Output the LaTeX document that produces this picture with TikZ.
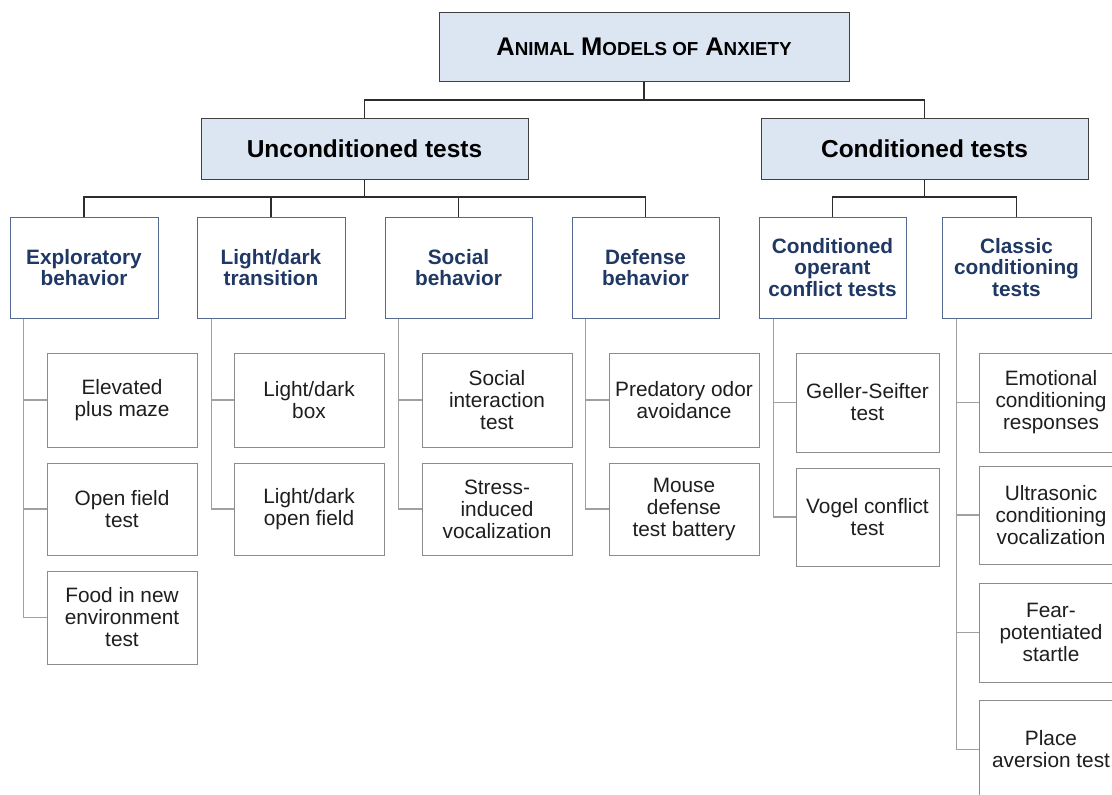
\documentclass[tikz,border=0pt]{standalone}
\usepackage{fontspec}
\setmainfont{Liberation Sans}
\definecolor{lonefill}{RGB}{220,230,242}
\definecolor{lonedraw}{RGB}{64,64,64}
\definecolor{lthreedraw}{RGB}{84,104,145}
\definecolor{lthreetext}{RGB}{31,56,100}
\definecolor{lfourdraw}{RGB}{140,140,140}
\definecolor{lfourtext}{RGB}{30,30,30}
\definecolor{topline}{RGB}{45,45,45}
\definecolor{subline}{RGB}{160,160,160}
\newcommand\mybox[7]{\node[#6, minimum width={#4-#2}, minimum height={#5-#3}] (#1) at ({(#2+#4)/2},{(#3+#5)/2}) {#7};}
\newcommand\capbig[1]{{\fontsize{25.5}{26}\selectfont #1}}
\newcommand\capsml[1]{{\fontsize{18.8}{26}\selectfont #1}}
\begin{document}
\begin{tikzpicture}[x=1pt,y=-1pt,
  every node/.style={inner sep=0pt, align=center},
  lone/.style={draw=lonedraw, fill=lonefill, line width=1pt, font=\bfseries\fontsize{24.5}{26}\selectfont, text=black},
  lthree/.style={draw=lthreedraw, fill=white, line width=1pt, font=\bfseries\fontsize{20.8}{21.5}\selectfont, text=lthreetext},
  lfour/.style={draw=lfourdraw, fill=white, line width=1pt, font=\fontsize{20.8}{22}\selectfont, text=lfourtext},
  tconn/.style={draw=topline, line width=1.1pt},
  sconn/.style={draw=subline, line width=1.3pt}]
\useasboundingbox (0,0) rectangle (1112,795);
\clip (0,0) rectangle (1112,795);
% level 1 and 2
\mybox{top}{439}{12}{849}{81}{lone}{\capbig{A}\capsml{NIMAL} \capbig{M}\capsml{ODELS OF} \capbig{A}\capsml{NXIETY}}
\mybox{unc}{201}{118}{528}{179}{lone}{Unconditioned tests}
\mybox{con}{761}{118}{1088}{179}{lone}{Conditioned tests}
% level 3
\mybox{expl}{10}{217}{158}{318}{lthree}{Exploratory\\behavior}
\mybox{ldt}{197}{217}{345}{318}{lthree}{Light/dark\\transition}
\mybox{soc}{385}{217}{532}{318}{lthree}{Social\\behavior}
\mybox{def}{572}{217}{719}{318}{lthree}{Defense\\behavior}
\mybox{cop}{759}{217}{906}{318}{lthree}{Conditioned\\operant\\conflict tests}
\mybox{cls}{942}{217}{1091}{318}{lthree}{Classic\\conditioning\\tests}
% level 4
\mybox{ea}{47}{353}{197}{447}{lfour}{Elevated\\plus maze}
\mybox{eb}{47}{463}{197}{555}{lfour}{Open field\\test}
\mybox{ec}{47}{571}{197}{664}{lfour}{Food in new\\environment\\test}
\mybox{la}{234}{353}{384}{447}{lfour}{Light/dark\\box}
\mybox{lb}{234}{463}{384}{555}{lfour}{Light/dark\\open field}
\mybox{sa}{422}{353}{572}{447}{lfour}{Social\\interaction\\test}
\mybox{sb}{422}{463}{572}{555}{lfour}{Stress-\\induced\\vocalization}
\mybox{da}{609}{353}{759}{447}{lfour}{Predatory odor\\avoidance}
\mybox{db}{609}{463}{759}{555}{lfour}{Mouse\\defense\\test battery}
\mybox{ca}{796}{353}{939}{452}{lfour}{Geller-Seifter\\test}
\mybox{cb}{796}{468}{939}{566}{lfour}{Vogel conflict\\test}
\mybox{ka}{979}{353}{1123}{452}{lfour}{Emotional\\conditioning\\responses}
\mybox{kb}{979}{466}{1123}{564}{lfour}{Ultrasonic\\conditioning\\vocalization}
\mybox{kc}{979}{583}{1123}{682}{lfour}{Fear-\\potentiated\\startle}
\mybox{kd}{979}{700}{1123}{799}{lfour}{Place\\aversion test}
% connectors level 1 -> 2
\coordinate (jone) at (644,100);
\draw[tconn] (top.south) -- (jone);
\draw[tconn] (unc.north) |- (jone) -| (con.north);
% level 2 -> 3
\coordinate (jtwo) at (364.5,197);
\draw[tconn] (unc.south) -- (jtwo);
\draw[tconn] (expl.north) |- (jtwo) -| (def.north);
\draw[tconn] (ldt.north) -- (ldt.north |- jtwo);
\draw[tconn] (soc.north) -- (soc.north |- jtwo);
\coordinate (jthree) at (924.5,197);
\draw[tconn] (con.south) -- (jthree);
\draw[tconn] (cop.north) |- (jthree) -| (cls.north);
% level 3 -> 4
\draw[sconn] ([xshift=14]expl.south west) |- (ec.west);
\draw[sconn] ([xshift=14]expl.south west) |- (ea.west);
\draw[sconn] ([xshift=14]expl.south west) |- (eb.west);
\draw[sconn] ([xshift=15]ldt.south west) |- (lb.west);
\draw[sconn] ([xshift=15]ldt.south west) |- (la.west);
\draw[sconn] ([xshift=14]soc.south west) |- (sb.west);
\draw[sconn] ([xshift=14]soc.south west) |- (sa.west);
\draw[sconn] ([xshift=14]def.south west) |- (db.west);
\draw[sconn] ([xshift=14]def.south west) |- (da.west);
\draw[sconn] ([xshift=15]cop.south west) |- (cb.west);
\draw[sconn] ([xshift=15]cop.south west) |- (ca.west);
\draw[sconn] ([xshift=15]cls.south west) |- (kd.west);
\draw[sconn] ([xshift=15]cls.south west) |- (ka.west);
\draw[sconn] ([xshift=15]cls.south west) |- (kb.west);
\draw[sconn] ([xshift=15]cls.south west) |- (kc.west);
\end{tikzpicture}
\end{document}
